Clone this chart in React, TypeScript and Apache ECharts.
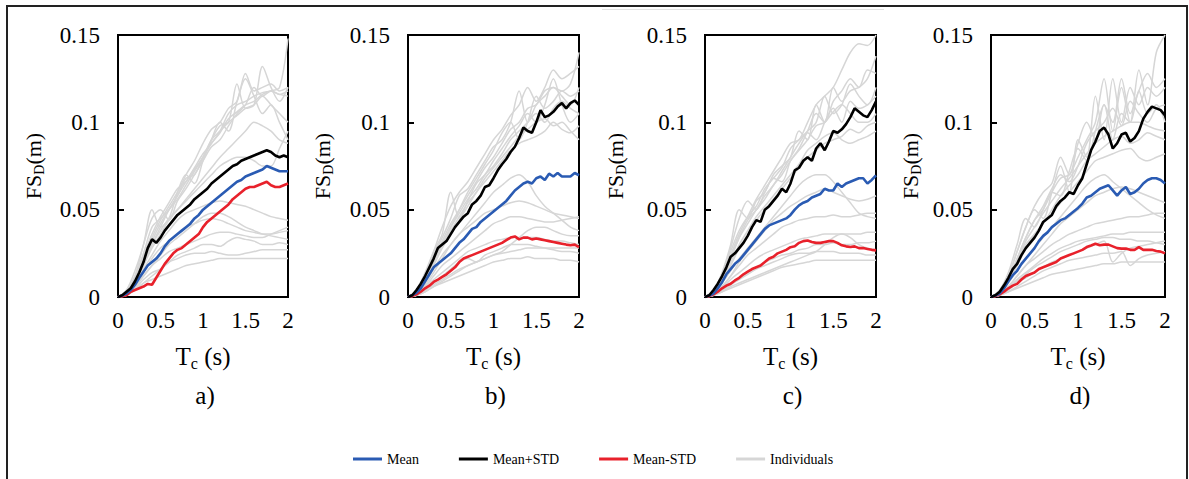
import React, { useEffect, useRef } from "react";
import * as echarts from "echarts";

const FONT = "Liberation Serif";

// x positions (s)
const periods = [0, 0.05, 0.1, 0.15, 0.2, 0.25, 0.3, 0.35, 0.4, 0.45, 0.5, 0.55, 0.6, 0.65, 0.7, 0.75, 0.8, 0.85, 0.9, 0.95, 1, 1.05, 1.1, 1.15, 1.2, 1.25, 1.3, 1.35, 1.4, 1.45, 1.5, 1.55, 1.6, 1.65, 1.7, 1.75, 1.8, 1.85, 1.9, 1.95, 2];
const periodsCoarse = [0, 0.1, 0.2, 0.3, 0.4, 0.5, 0.6, 0.7, 0.8, 0.9, 1, 1.1, 1.2, 1.3, 1.4, 1.5, 1.6, 1.7, 1.8, 1.9, 2];

const X_TICKS = [0, 0.5, 1, 1.5, 2];
const Y_TICKS = [0, 0.05, 0.1, 0.15];
const PANEL_LABELS = ["a)", "b)", "c)", "d)"];
const LEGEND_NAMES = ["Mean", "Mean+STD", "Mean-STD", "Individuals"];

// Panel a
const plusA = [0, 0.001, 0.003, 0.005, 0.009, 0.014, 0.02, 0.028, 0.033, 0.031, 0.034, 0.038, 0.041, 0.044, 0.047, 0.049, 0.051, 0.053, 0.056, 0.058, 0.06, 0.062, 0.065, 0.067, 0.069, 0.071, 0.073, 0.075, 0.076, 0.078, 0.079, 0.08, 0.081, 0.082, 0.083, 0.084, 0.083, 0.081, 0.08, 0.081, 0.08];
const meanA = [0, 0.0008, 0.002, 0.004, 0.007, 0.011, 0.0145, 0.018, 0.02, 0.022, 0.025, 0.029, 0.032, 0.034, 0.036, 0.038, 0.04, 0.042, 0.045, 0.047, 0.05, 0.052, 0.054, 0.056, 0.058, 0.06, 0.062, 0.064, 0.066, 0.067, 0.069, 0.07, 0.071, 0.072, 0.073, 0.075, 0.074, 0.073, 0.072, 0.072, 0.072];
const minusA = [0, 0.0005, 0.001, 0.003, 0.004, 0.005, 0.006, 0.0075, 0.007, 0.011, 0.015, 0.019, 0.022, 0.025, 0.027, 0.028, 0.03, 0.032, 0.034, 0.036, 0.04, 0.043, 0.045, 0.047, 0.049, 0.051, 0.053, 0.056, 0.058, 0.06, 0.062, 0.063, 0.063, 0.064, 0.065, 0.066, 0.064, 0.063, 0.063, 0.064, 0.065];
const indivA = [
  [0, 0.002, 0.008, 0.018, 0.03, 0.04, 0.05, 0.058, 0.066, 0.074, 0.082, 0.088, 0.095, 0.105, 0.11, 0.112, 0.115, 0.117, 0.118, 0.12, 0.148],
  [0, 0.003, 0.01, 0.022, 0.034, 0.044, 0.052, 0.06, 0.07, 0.078, 0.088, 0.096, 0.1, 0.108, 0.112, 0.128, 0.118, 0.12, 0.122, 0.118, 0.12],
  [0, 0.003, 0.012, 0.025, 0.04, 0.045, 0.05, 0.058, 0.068, 0.07, 0.08, 0.09, 0.098, 0.1, 0.122, 0.108, 0.11, 0.132, 0.12, 0.112, 0.12],
  [0, 0.003, 0.011, 0.024, 0.036, 0.046, 0.054, 0.062, 0.066, 0.073, 0.08, 0.088, 0.094, 0.102, 0.106, 0.11, 0.112, 0.116, 0.118, 0.116, 0.118],
  [0, 0.004, 0.015, 0.03, 0.05, 0.04, 0.045, 0.06, 0.07, 0.065, 0.078, 0.09, 0.1, 0.095, 0.112, 0.125, 0.115, 0.105, 0.11, 0.1, 0.09],
  [0, 0.003, 0.01, 0.02, 0.03, 0.038, 0.045, 0.05, 0.055, 0.06, 0.065, 0.07, 0.075, 0.078, 0.08, 0.08, 0.078, 0.075, 0.075, 0.085, 0.095],
  [0, 0.002, 0.008, 0.016, 0.024, 0.032, 0.038, 0.044, 0.048, 0.05, 0.052, 0.054, 0.055, 0.054, 0.053, 0.052, 0.05, 0.048, 0.046, 0.045, 0.044],
  [0, 0.002, 0.006, 0.012, 0.018, 0.022, 0.026, 0.028, 0.03, 0.032, 0.034, 0.036, 0.037, 0.037, 0.036, 0.035, 0.034, 0.034, 0.036, 0.038, 0.04],
  [0, 0.002, 0.005, 0.01, 0.014, 0.016, 0.02, 0.024, 0.026, 0.028, 0.03, 0.03, 0.029, 0.032, 0.034, 0.033, 0.032, 0.03, 0.03, 0.031, 0.03],
  [0, 0.001, 0.004, 0.008, 0.012, 0.016, 0.02, 0.022, 0.024, 0.025, 0.025, 0.026, 0.025, 0.024, 0.024, 0.025, 0.026, 0.027, 0.027, 0.027, 0.027],
  [0, 0.001, 0.004, 0.008, 0.01, 0.012, 0.014, 0.016, 0.018, 0.019, 0.02, 0.021, 0.022, 0.022, 0.022, 0.022, 0.022, 0.022, 0.022, 0.022, 0.022],
  [0, 0.002, 0.006, 0.012, 0.018, 0.024, 0.03, 0.034, 0.038, 0.042, 0.046, 0.048, 0.048, 0.046, 0.043, 0.04, 0.038, 0.036, 0.035, 0.034, 0.033],
  [0, 0.003, 0.012, 0.03, 0.045, 0.05, 0.044, 0.055, 0.062, 0.07, 0.078, 0.086, 0.09, 0.098, 0.105, 0.11, 0.12, 0.115, 0.118, 0.116, 0.115],
  [0, 0.002, 0.009, 0.02, 0.032, 0.042, 0.05, 0.056, 0.064, 0.072, 0.08, 0.09, 0.095, 0.1, 0.104, 0.108, 0.11, 0.115, 0.11, 0.105, 0.1],
  [0, 0.002, 0.008, 0.018, 0.028, 0.036, 0.044, 0.05, 0.056, 0.062, 0.068, 0.074, 0.08, 0.085, 0.09, 0.095, 0.1, 0.098, 0.095, 0.09, 0.088],
  [0, 0.002, 0.006, 0.014, 0.022, 0.028, 0.032, 0.036, 0.04, 0.042, 0.044, 0.045, 0.044, 0.042, 0.04, 0.038, 0.037, 0.036, 0.036, 0.037, 0.038],
];

// Panel b
const plusB = [0, 0.001, 0.004, 0.0076, 0.012, 0.017, 0.022, 0.028, 0.03, 0.032, 0.036, 0.04, 0.043, 0.046, 0.048, 0.053, 0.055, 0.058, 0.063, 0.064, 0.068, 0.0725, 0.076, 0.079, 0.083, 0.086, 0.091, 0.097, 0.095, 0.094, 0.1, 0.107, 0.103, 0.104, 0.106, 0.109, 0.111, 0.108, 0.111, 0.1125, 0.11];
const meanB = [0, 0.001, 0.0025, 0.005, 0.009, 0.013, 0.017, 0.019, 0.021, 0.023, 0.025, 0.028, 0.031, 0.033, 0.036, 0.039, 0.04, 0.043, 0.045, 0.047, 0.049, 0.051, 0.053, 0.055, 0.058, 0.061, 0.063, 0.065, 0.066, 0.065, 0.068, 0.069, 0.067, 0.0706, 0.069, 0.071, 0.069, 0.069, 0.069, 0.071, 0.0697];
const minusB = [0, 0.0005, 0.0015, 0.003, 0.005, 0.0065, 0.0086, 0.01, 0.0115, 0.013, 0.015, 0.017, 0.02, 0.022, 0.023, 0.024, 0.025, 0.026, 0.027, 0.028, 0.029, 0.03, 0.031, 0.0325, 0.034, 0.0347, 0.033, 0.034, 0.034, 0.033, 0.0335, 0.033, 0.0325, 0.032, 0.0315, 0.031, 0.0305, 0.03, 0.0296, 0.03, 0.0286];
const indivB = [
  [0, 0.003, 0.012, 0.024, 0.034, 0.045, 0.058, 0.062, 0.07, 0.078, 0.086, 0.09, 0.1, 0.118, 0.1, 0.11, 0.115, 0.12, 0.118, 0.122, 0.14],
  [0, 0.003, 0.011, 0.022, 0.032, 0.042, 0.05, 0.058, 0.066, 0.074, 0.08, 0.088, 0.096, 0.1, 0.108, 0.11, 0.118, 0.12, 0.115, 0.11, 0.12],
  [0, 0.004, 0.014, 0.026, 0.036, 0.06, 0.045, 0.055, 0.065, 0.07, 0.078, 0.085, 0.092, 0.098, 0.105, 0.1, 0.11, 0.125, 0.11, 0.1, 0.105],
  [0, 0.003, 0.01, 0.02, 0.03, 0.04, 0.048, 0.056, 0.062, 0.07, 0.075, 0.082, 0.09, 0.095, 0.1, 0.105, 0.1, 0.108, 0.112, 0.108, 0.105],
  [0, 0.003, 0.01, 0.022, 0.03, 0.038, 0.046, 0.054, 0.06, 0.068, 0.074, 0.08, 0.086, 0.092, 0.096, 0.1, 0.102, 0.098, 0.1, 0.095, 0.09],
  [0, 0.002, 0.008, 0.016, 0.024, 0.03, 0.036, 0.042, 0.048, 0.054, 0.06, 0.064, 0.068, 0.07, 0.066, 0.058, 0.052, 0.048, 0.044, 0.04, 0.038],
  [0, 0.002, 0.006, 0.012, 0.018, 0.022, 0.026, 0.03, 0.034, 0.038, 0.042, 0.044, 0.046, 0.046, 0.045, 0.044, 0.043, 0.043, 0.044, 0.045, 0.046],
  [0, 0.002, 0.006, 0.01, 0.014, 0.018, 0.022, 0.026, 0.028, 0.03, 0.032, 0.033, 0.034, 0.034, 0.034, 0.034, 0.033, 0.032, 0.032, 0.031, 0.03],
  [0, 0.001, 0.004, 0.008, 0.012, 0.016, 0.02, 0.022, 0.02, 0.024, 0.026, 0.028, 0.03, 0.03, 0.03, 0.029, 0.028, 0.027, 0.026, 0.026, 0.025],
  [0, 0.001, 0.004, 0.007, 0.01, 0.013, 0.016, 0.018, 0.02, 0.022, 0.024, 0.025, 0.026, 0.027, 0.028, 0.028, 0.028, 0.028, 0.028, 0.028, 0.028],
  [0, 0.001, 0.003, 0.006, 0.009, 0.012, 0.015, 0.018, 0.02, 0.022, 0.024, 0.026, 0.03, 0.034, 0.038, 0.04, 0.04, 0.038, 0.036, 0.035, 0.035],
  [0, 0.001, 0.003, 0.006, 0.008, 0.01, 0.012, 0.014, 0.016, 0.018, 0.02, 0.021, 0.022, 0.022, 0.023, 0.022, 0.022, 0.022, 0.021, 0.021, 0.02],
  [0, 0.003, 0.012, 0.026, 0.04, 0.052, 0.06, 0.066, 0.074, 0.082, 0.09, 0.096, 0.104, 0.11, 0.12, 0.112, 0.12, 0.13, 0.125, 0.128, 0.132],
  [0, 0.003, 0.01, 0.02, 0.03, 0.04, 0.05, 0.06, 0.068, 0.076, 0.084, 0.094, 0.1, 0.09, 0.1, 0.115, 0.108, 0.112, 0.118, 0.115, 0.118],
  [0, 0.002, 0.009, 0.018, 0.028, 0.036, 0.044, 0.052, 0.06, 0.066, 0.072, 0.078, 0.084, 0.088, 0.09, 0.092, 0.095, 0.1, 0.096, 0.094, 0.098],
  [0, 0.002, 0.007, 0.014, 0.022, 0.03, 0.036, 0.04, 0.044, 0.048, 0.05, 0.052, 0.054, 0.055, 0.054, 0.052, 0.05, 0.048, 0.047, 0.046, 0.045],
];

// Panel c
const plusC = [0, 0.001, 0.004, 0.0076, 0.012, 0.017, 0.023, 0.025, 0.028, 0.031, 0.035, 0.04, 0.044, 0.043, 0.05, 0.052, 0.055, 0.058, 0.062, 0.06, 0.065, 0.0725, 0.074, 0.078, 0.08, 0.078, 0.085, 0.088, 0.084, 0.089, 0.095, 0.094, 0.096, 0.099, 0.103, 0.108, 0.106, 0.104, 0.103, 0.107, 0.112];
const meanC = [0, 0.0008, 0.002, 0.005, 0.0085, 0.013, 0.016, 0.019, 0.021, 0.024, 0.027, 0.03, 0.033, 0.036, 0.039, 0.041, 0.042, 0.043, 0.044, 0.045, 0.047, 0.05, 0.0525, 0.054, 0.055, 0.057, 0.058, 0.059, 0.062, 0.061, 0.061, 0.065, 0.063, 0.065, 0.066, 0.067, 0.068, 0.068, 0.065, 0.067, 0.0697];
const minusC = [0, 0.0005, 0.0015, 0.003, 0.005, 0.0065, 0.0076, 0.0095, 0.011, 0.013, 0.0145, 0.016, 0.017, 0.018, 0.02, 0.022, 0.023, 0.025, 0.026, 0.027, 0.0285, 0.029, 0.031, 0.032, 0.0324, 0.0315, 0.031, 0.031, 0.0315, 0.032, 0.032, 0.031, 0.0296, 0.029, 0.0286, 0.029, 0.028, 0.028, 0.0275, 0.027, 0.0267];
const indivC = [
  [0, 0.003, 0.012, 0.024, 0.036, 0.046, 0.056, 0.064, 0.072, 0.08, 0.088, 0.09, 0.1, 0.11, 0.115, 0.12, 0.13, 0.14, 0.145, 0.144, 0.15],
  [0, 0.004, 0.014, 0.03, 0.05, 0.045, 0.055, 0.06, 0.07, 0.075, 0.08, 0.095, 0.09, 0.11, 0.1, 0.12, 0.112, 0.118, 0.12, 0.125, 0.138],
  [0, 0.003, 0.012, 0.026, 0.038, 0.046, 0.052, 0.062, 0.068, 0.074, 0.085, 0.09, 0.095, 0.1, 0.115, 0.105, 0.11, 0.122, 0.115, 0.11, 0.12],
  [0, 0.003, 0.01, 0.022, 0.034, 0.044, 0.05, 0.056, 0.064, 0.07, 0.078, 0.084, 0.09, 0.098, 0.1, 0.106, 0.11, 0.105, 0.1, 0.1, 0.105],
  [0, 0.003, 0.01, 0.02, 0.03, 0.038, 0.046, 0.052, 0.058, 0.064, 0.07, 0.076, 0.084, 0.088, 0.092, 0.094, 0.09, 0.088, 0.09, 0.092, 0.095],
  [0, 0.002, 0.008, 0.015, 0.022, 0.028, 0.034, 0.04, 0.046, 0.052, 0.058, 0.064, 0.068, 0.07, 0.07, 0.066, 0.06, 0.054, 0.048, 0.046, 0.045],
  [0, 0.002, 0.006, 0.012, 0.018, 0.024, 0.028, 0.032, 0.036, 0.04, 0.042, 0.044, 0.045, 0.046, 0.046, 0.047, 0.046, 0.046, 0.047, 0.048, 0.048],
  [0, 0.002, 0.005, 0.01, 0.014, 0.018, 0.022, 0.025, 0.027, 0.029, 0.031, 0.033, 0.034, 0.035, 0.036, 0.036, 0.036, 0.036, 0.036, 0.037, 0.037],
  [0, 0.001, 0.004, 0.008, 0.011, 0.014, 0.017, 0.02, 0.022, 0.024, 0.025, 0.027, 0.028, 0.03, 0.03, 0.031, 0.03, 0.03, 0.031, 0.031, 0.032],
  [0, 0.001, 0.004, 0.007, 0.01, 0.013, 0.016, 0.018, 0.02, 0.022, 0.024, 0.025, 0.025, 0.026, 0.026, 0.026, 0.025, 0.025, 0.025, 0.024, 0.024],
  [0, 0.001, 0.003, 0.006, 0.008, 0.01, 0.012, 0.014, 0.016, 0.018, 0.02, 0.022, 0.024, 0.026, 0.03, 0.034, 0.036, 0.034, 0.03, 0.028, 0.027],
  [0, 0.001, 0.003, 0.005, 0.007, 0.009, 0.011, 0.013, 0.015, 0.017, 0.018, 0.019, 0.02, 0.021, 0.021, 0.021, 0.021, 0.021, 0.021, 0.021, 0.021],
  [0, 0.003, 0.012, 0.028, 0.045, 0.055, 0.05, 0.06, 0.068, 0.066, 0.078, 0.085, 0.095, 0.105, 0.1, 0.112, 0.118, 0.125, 0.12, 0.13, 0.128],
  [0, 0.003, 0.01, 0.022, 0.034, 0.042, 0.05, 0.058, 0.064, 0.072, 0.08, 0.088, 0.094, 0.09, 0.1, 0.108, 0.1, 0.112, 0.108, 0.11, 0.115],
  [0, 0.002, 0.009, 0.018, 0.028, 0.036, 0.044, 0.05, 0.056, 0.062, 0.068, 0.074, 0.08, 0.084, 0.088, 0.09, 0.092, 0.096, 0.094, 0.098, 0.1],
  [0, 0.002, 0.006, 0.012, 0.02, 0.026, 0.032, 0.038, 0.044, 0.048, 0.052, 0.055, 0.058, 0.06, 0.062, 0.06, 0.058, 0.056, 0.055, 0.056, 0.058],
];

// Panel d
const plusD = [0, 0.001, 0.003, 0.0067, 0.011, 0.016, 0.019, 0.024, 0.028, 0.031, 0.034, 0.038, 0.043, 0.045, 0.047, 0.052, 0.055, 0.057, 0.06, 0.059, 0.064, 0.068, 0.076, 0.084, 0.089, 0.095, 0.097, 0.093, 0.085, 0.088, 0.093, 0.094, 0.089, 0.091, 0.095, 0.102, 0.106, 0.109, 0.108, 0.107, 0.104];
const meanD = [0, 0.0008, 0.002, 0.005, 0.009, 0.0125, 0.015, 0.019, 0.022, 0.025, 0.028, 0.032, 0.035, 0.037, 0.04, 0.042, 0.044, 0.045, 0.047, 0.049, 0.051, 0.0535, 0.057, 0.058, 0.06, 0.062, 0.063, 0.064, 0.061, 0.058, 0.061, 0.063, 0.059, 0.06, 0.062, 0.065, 0.067, 0.068, 0.068, 0.067, 0.065];
const minusD = [0, 0.0005, 0.0015, 0.003, 0.005, 0.0065, 0.0075, 0.01, 0.012, 0.013, 0.014, 0.016, 0.017, 0.018, 0.019, 0.02, 0.022, 0.023, 0.024, 0.025, 0.026, 0.027, 0.0286, 0.0295, 0.0305, 0.0296, 0.03, 0.03, 0.029, 0.028, 0.0277, 0.0277, 0.027, 0.027, 0.0286, 0.027, 0.027, 0.027, 0.0263, 0.026, 0.025];
const indivD = [
  [0, 0.003, 0.01, 0.022, 0.034, 0.044, 0.05, 0.06, 0.068, 0.07, 0.08, 0.09, 0.1, 0.125, 0.095, 0.12, 0.1, 0.13, 0.11, 0.14, 0.15],
  [0, 0.003, 0.012, 0.026, 0.04, 0.05, 0.045, 0.06, 0.075, 0.06, 0.09, 0.08, 0.115, 0.09, 0.125, 0.1, 0.12, 0.11, 0.12, 0.115, 0.12],
  [0, 0.004, 0.014, 0.03, 0.045, 0.04, 0.05, 0.06, 0.058, 0.072, 0.085, 0.078, 0.095, 0.11, 0.09, 0.105, 0.1, 0.118, 0.105, 0.11, 0.1],
  [0, 0.003, 0.01, 0.02, 0.032, 0.04, 0.048, 0.055, 0.062, 0.068, 0.075, 0.082, 0.088, 0.092, 0.095, 0.098, 0.1, 0.1, 0.098, 0.096, 0.095],
  [0, 0.003, 0.01, 0.02, 0.03, 0.036, 0.042, 0.048, 0.054, 0.06, 0.066, 0.072, 0.078, 0.08, 0.082, 0.084, 0.085, 0.08, 0.078, 0.08, 0.082],
  [0, 0.002, 0.008, 0.015, 0.022, 0.028, 0.034, 0.04, 0.046, 0.052, 0.058, 0.064, 0.068, 0.07, 0.066, 0.062, 0.058, 0.054, 0.05, 0.047, 0.045],
  [0, 0.002, 0.006, 0.012, 0.018, 0.022, 0.026, 0.03, 0.033, 0.036, 0.038, 0.04, 0.042, 0.043, 0.044, 0.045, 0.046, 0.046, 0.047, 0.048, 0.048],
  [0, 0.002, 0.005, 0.01, 0.014, 0.018, 0.022, 0.025, 0.028, 0.03, 0.032, 0.033, 0.034, 0.035, 0.036, 0.036, 0.037, 0.037, 0.037, 0.037, 0.037],
  [0, 0.001, 0.004, 0.008, 0.011, 0.014, 0.017, 0.02, 0.022, 0.024, 0.026, 0.028, 0.03, 0.032, 0.02, 0.025, 0.028, 0.029, 0.03, 0.031, 0.032],
  [0, 0.001, 0.003, 0.006, 0.009, 0.012, 0.015, 0.017, 0.019, 0.021, 0.022, 0.023, 0.024, 0.025, 0.025, 0.026, 0.018, 0.022, 0.024, 0.025, 0.026],
  [0, 0.001, 0.003, 0.005, 0.007, 0.009, 0.011, 0.013, 0.014, 0.015, 0.016, 0.017, 0.018, 0.019, 0.019, 0.02, 0.02, 0.02, 0.02, 0.02, 0.02],
  [0, 0.002, 0.005, 0.009, 0.013, 0.017, 0.02, 0.023, 0.026, 0.028, 0.03, 0.032, 0.033, 0.034, 0.034, 0.033, 0.033, 0.032, 0.032, 0.031, 0.03],
  [0, 0.003, 0.012, 0.026, 0.04, 0.052, 0.06, 0.065, 0.08, 0.07, 0.088, 0.1, 0.09, 0.11, 0.1, 0.125, 0.105, 0.118, 0.128, 0.12, 0.125],
  [0, 0.003, 0.01, 0.022, 0.034, 0.044, 0.052, 0.062, 0.07, 0.066, 0.075, 0.088, 0.095, 0.1, 0.108, 0.098, 0.112, 0.105, 0.1, 0.108, 0.11],
  [0, 0.002, 0.009, 0.018, 0.028, 0.036, 0.042, 0.05, 0.058, 0.064, 0.07, 0.078, 0.082, 0.086, 0.09, 0.092, 0.088, 0.09, 0.094, 0.092, 0.09],
  [0, 0.002, 0.006, 0.012, 0.018, 0.024, 0.03, 0.036, 0.042, 0.046, 0.05, 0.054, 0.058, 0.06, 0.062, 0.063, 0.062, 0.06, 0.058, 0.056, 0.054],
];

const PANELS = [
  { plus: plusA, mean: meanA, minus: minusA, indiv: indivA },
  { plus: plusB, mean: meanB, minus: minusB, indiv: indivB },
  { plus: plusC, mean: meanC, minus: minusC, indiv: indivC },
  { plus: plusD, mean: meanD, minus: minusD, indiv: indivD },
];

// layout (pixels)
const GRID_LEFTS = [118, 408, 705, 991];
const GRID_WIDTHS = [170, 171, 171, 174];
const GRID_TOP = 35;
const GRID_HEIGHT = 262;
const Y_NAME_GAPS = [72, 73, 77, 68];

const COLORS = { mean: "#2a5bb3", plus: "#000000", minus: "#e8212b", indiv: "#d6d6d6" };

export default function App() {
  const ref = useRef<HTMLDivElement>(null);
  useEffect(() => {
    if (!ref.current) return;
    const chart = echarts.init(ref.current, undefined, { renderer: "svg" });

    const grids: any[] = [];
    const xAxes: any[] = [];
    const yAxes: any[] = [];
    const series: any[] = [];
    const graphics: any[] = [
      {
        type: "rect",
        shape: { x: 7, y: 6, width: 1180, height: 490 },
        style: { fill: "none", stroke: "#222", lineWidth: 2 },
        silent: true,
      },
      {
        type: "line",
        shape: { x1: 602, y1: 9.5, x2: 884, y2: 9.5 },
        style: { stroke: "#e2e2e2", lineWidth: 1 },
        silent: true,
      },
    ];

    PANELS.forEach((p, i) => {
      grids.push({
        left: GRID_LEFTS[i],
        top: GRID_TOP,
        width: GRID_WIDTHS[i],
        height: GRID_HEIGHT,
        show: true,
        borderColor: "#000",
        borderWidth: 2,
        backgroundColor: "transparent",
      });
      xAxes.push({
        type: "value",
        gridIndex: i,
        min: X_TICKS[0],
        max: X_TICKS[X_TICKS.length - 1],
        interval: X_TICKS[1] - X_TICKS[0],
        axisLine: { show: false },
        axisTick: { show: false },
        splitLine: { show: false },
        axisLabel: { fontFamily: FONT, fontSize: 23, color: "#000", margin: 12 },
        name: "{t|T}{s|c}{t| (s)}",
        nameLocation: "middle",
        nameGap: 44,
        nameTextStyle: {
          fontFamily: FONT,
          rich: {
            t: { fontFamily: FONT, fontSize: 25, color: "#000", lineHeight: 30 },
            s: { fontFamily: FONT, fontSize: 16, color: "#000", lineHeight: 30, verticalAlign: "bottom" },
          },
        },
      });
      yAxes.push({
        type: "value",
        gridIndex: i,
        min: Y_TICKS[0],
        max: Y_TICKS[Y_TICKS.length - 1],
        interval: Y_TICKS[1] - Y_TICKS[0],
        axisLine: { show: false },
        axisTick: { show: true, inside: true, length: 6, lineStyle: { color: "#000", width: 2 } },
        splitLine: { show: false },
        axisLabel: { fontFamily: FONT, fontSize: 23, color: "#000", margin: 18 },
        name: "{t|FS}{s|D}{t|(m)}",
        nameLocation: "middle",
        nameRotate: 90,
        nameGap: Y_NAME_GAPS[i],
        nameTextStyle: {
          fontFamily: FONT,
          rich: {
            t: { fontFamily: FONT, fontSize: 22, color: "#000", lineHeight: 26 },
            s: { fontFamily: FONT, fontSize: 14, color: "#000", lineHeight: 26, verticalAlign: "bottom" },
          },
        },
      });

      p.indiv.forEach((arr) => {
        series.push({
          type: "line",
          name: "Individuals",
          xAxisIndex: i,
          yAxisIndex: i,
          data: arr.map((v, k) => [periodsCoarse[k], v]),
          symbol: "none",
          smooth: 0.3,
          lineStyle: { color: COLORS.indiv, width: 1.5 },
          itemStyle: { color: COLORS.indiv },
          silent: true,
        });
      });
      const main = [
        { name: "Mean-STD", data: p.minus, color: COLORS.minus },
        { name: "Mean", data: p.mean, color: COLORS.mean },
        { name: "Mean+STD", data: p.plus, color: COLORS.plus },
      ];
      main.forEach((m) => {
        series.push({
          type: "line",
          name: m.name,
          xAxisIndex: i,
          yAxisIndex: i,
          data: m.data.map((v, k) => [periods[k], v]),
          symbol: "none",
          lineStyle: { color: m.color, width: 2.6 },
          itemStyle: { color: m.color },
        });
      });

      graphics.push({
        type: "text",
        x: GRID_LEFTS[i] + GRID_WIDTHS[i] / 2 + 2,
        y: 395,
        style: {
          text: PANEL_LABELS[i],
          fontFamily: FONT,
          fontSize: 25,
          fill: "#000",
          align: "center",
          verticalAlign: "middle",
        },
      });
    });

    chart.setOption({
      animation: false,
      backgroundColor: "#fff",
      textStyle: { fontFamily: FONT },
      grid: grids,
      xAxis: xAxes,
      yAxis: yAxes,
      series,
      legend: {
        data: LEGEND_NAMES,
        left: 353,
        top: 452,
        padding: 0,
        icon: "rect",
        itemWidth: 29,
        itemHeight: 3,
        itemGap: 40,
        textStyle: { fontFamily: FONT, fontSize: 14, color: "#000" },
      },
      graphic: graphics,
    });
    return () => chart.dispose();
  }, []);
  return (
    <div
      ref={ref}
      style={{ position: "absolute", left: 0, top: 0, width: 1189, height: 479 }}
    />
  );
}
